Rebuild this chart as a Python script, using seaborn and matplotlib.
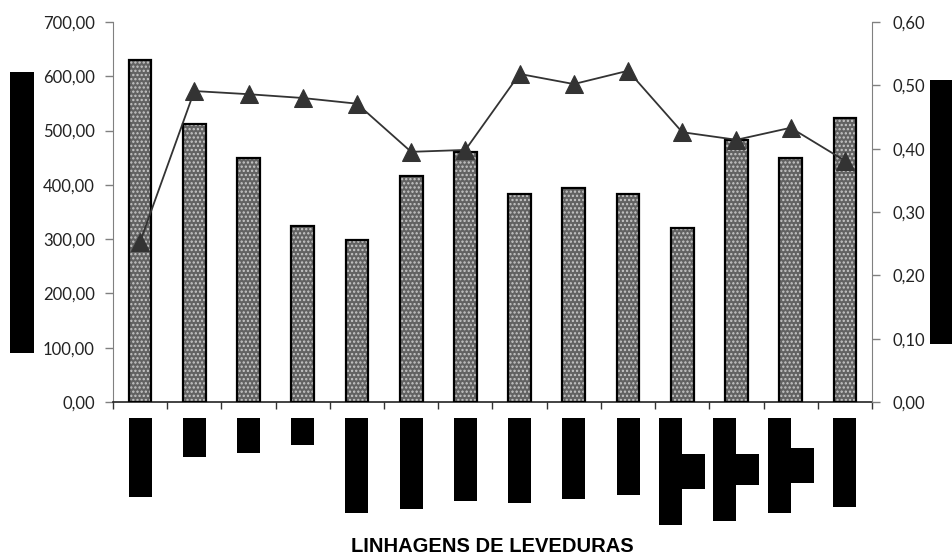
import numpy as np
import pandas as pd
import matplotlib
matplotlib.use("Agg")
import matplotlib.pyplot as plt
import matplotlib.transforms as mtransforms
from matplotlib.patches import Rectangle
from matplotlib.ticker import FuncFormatter, MultipleLocator
import seaborn as sns

# Yeast strains (names are masked on the chart) and measured values
strains = [f"L{i:02d}" for i in range(1, 15)]
bar_values = [630, 512, 449, 325, 298, 416, 461, 383, 395, 383, 320, 483, 450, 524]
line_values = [0.253, 0.491, 0.486, 0.480, 0.471, 0.395, 0.398,
               0.518, 0.502, 0.523, 0.426, 0.414, 0.433, 0.381]
x_title = "LINHAGENS DE LEVEDURAS"

# Masked tick-label blocks under each strain (lengths in pixels)
label_block_main = [79, 39, 35, 27, 95, 91, 83, 85, 81, 77, 107, 103, 95, 89]
label_block_second = [0, 0, 0, 0, 0, 0, 0, 0, 0, 0, 35, 31, 35, 0]

sns.set_style("white")
plt.rcParams["font.family"] = ["Lato", "DejaVu Sans"]
plt.rcParams["hatch.linewidth"] = 1.1

W, H = 953, 556
fig = plt.figure(figsize=(W / 100, H / 100), dpi=100)
ax = fig.add_axes([113 / W, 1 - 402 / H, 759 / W, 380 / H])

df = pd.DataFrame({"linhagem": strains, "valor": bar_values})
sns.barplot(data=df, x="linhagem", y="valor", color="#626262", width=0.42,
            edgecolor="#c8c8c8", linewidth=0, hatch="....", ax=ax, zorder=2)
for p in list(ax.patches):
    ax.add_patch(Rectangle(p.get_xy(), p.get_width(), p.get_height(), fill=False,
                           edgecolor="black", linewidth=1.6, zorder=3))

ax.set_xlim(-0.5, len(strains) - 0.5)
ax.set_ylim(0, 700)
ax.yaxis.set_major_locator(MultipleLocator(100))
ax.yaxis.set_major_formatter(FuncFormatter(lambda v, _: f"{v:.2f}".replace(".", ",")))
ax.set_xticks([])
ax.set_xticks(np.arange(-0.5, len(strains), 1), minor=True)
ax.tick_params(axis="x", which="minor", direction="out", length=5, width=1, color="#333333", bottom=True)
ax.tick_params(axis="y", direction="out", length=6, width=1, color="#808080",
               labelsize=12, labelcolor="#222222", pad=7, left=True)
ax.set_xlabel("")
ax.set_ylabel("")
for s in ("top", "right"):
    ax.spines[s].set_visible(False)
ax.spines["left"].set_color("#808080")
ax.spines["bottom"].set_color("#222222")
ax.spines["bottom"].set_linewidth(1.2)

ax2 = ax.twinx()
sns.lineplot(x=np.arange(len(strains)), y=line_values, ax=ax2, color="#333333",
             linewidth=1.3, marker="^", markersize=13, markeredgecolor="#333333",
             markerfacecolor="#333333", sort=False)
ax2.set_ylim(0, 0.6)
ax2.yaxis.set_major_locator(MultipleLocator(0.1))
ax2.yaxis.set_major_formatter(FuncFormatter(lambda v, _: f"{v:.2f}".replace(".", ",")))
ax2.tick_params(axis="y", direction="out", length=6, width=1, color="#808080",
                labelsize=12, labelcolor="#222222", pad=9, right=True)
for s in ("top", "left", "bottom"):
    ax2.spines[s].set_visible(False)
ax2.spines["right"].set_color("#808080")
ax2.set_ylabel("")
ax2.set_xlim(-0.5, len(strains) - 0.5)

# Masked strain labels below the axis
trans = mtransforms.blended_transform_factory(ax.transData, fig.transFigure)
bw = 0.424
top_px = 418
for i, (m, s2) in enumerate(zip(label_block_main, label_block_second)):
    if s2:
        ax.add_patch(Rectangle((i - bw, 1 - (top_px + m) / H), bw, m / H, transform=trans,
                               facecolor="black", edgecolor="none", clip_on=False))
        mid = top_px + m / 2
        ax.add_patch(Rectangle((i, 1 - (mid + s2 / 2) / H), bw, s2 / H, transform=trans,
                               facecolor="black", edgecolor="none", clip_on=False))
    else:
        ax.add_patch(Rectangle((i - bw / 2, 1 - (top_px + m) / H), bw, m / H, transform=trans,
                               facecolor="black", edgecolor="none", clip_on=False))

# Masked axis titles
fig.patches.append(Rectangle((10 / W, 1 - 353 / H), 24 / W, 281 / H,
                             transform=fig.transFigure, facecolor="black", edgecolor="none"))
fig.patches.append(Rectangle((930 / W, 1 - 344 / H), 22 / W, 264 / H,
                             transform=fig.transFigure, facecolor="black", edgecolor="none"))

fig.text(492 / W, 1 - 546 / H, x_title, ha="center", va="center", fontsize=14.5,
         fontweight="bold", family=["Liberation Sans", "DejaVu Sans"], color="black")

fig.savefig("out.png", dpi=100)
